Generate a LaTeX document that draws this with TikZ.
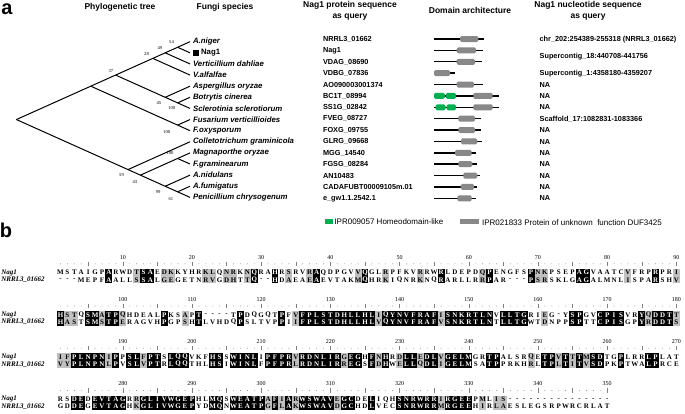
\documentclass[tikz,border=0pt]{standalone}
\usepackage{fontspec}
\setmainfont{Liberation Serif}
\setsansfont{Liberation Sans}
\usepackage{xstring}
\usetikzlibrary{positioning,calc}
\tikzset{every picture/.style={line width=0.75pt}}
\definecolor{domgreen}{RGB}{0,176,80}
\definecolor{domgray}{RGB}{136,136,136}
\definecolor{simgray}{RGB}{192,192,192}

% 比对块: #1 标尺y, #2 起始编号, #3 列数, #4 Nag1, #5 NRRL3, #6 灰色列
\newcommand\alnblock[6]{%
  \pgfmathsetmacro\rowA{#1+15.3}%
  \pgfmathsetmacro\rowB{#1+22.5}%
  \node[seqname] (nag#2) at (1,\rowA) {Nag1};
  \node[seqname] (nrrl#2) at (1,\rowB) {NRRL3\_01662};
  \foreach \g in {#6} {
    \pgfmathsetmacro\gx{60.5+(\g-#2)*6.92}
    \fill[simgray] (\gx-3.46,\rowA-3.6) rectangle (\gx+3.46,\rowB+3.6);
  }
  \foreach \i in {1,...,#3} {
    \pgfmathsetmacro\cx{60.5+(\i-1)*6.92}
    \pgfmathtruncatemacro\num{#2+\i-1}
    \pgfmathtruncatemacro\mf{mod(\num,5)}
    \pgfmathtruncatemacro\mt{mod(\num,10)}
    \ifnum\mf=0
      \draw[black!50, line width=0.5pt] (\cx,#1+4.3) -- (\cx,#1+8.7);
    \else
      \fill[black!50] (\cx,#1+6.5) circle (0.45);
    \fi
    \ifnum\mt=0
      \node[rulernum] (num\num) at (\cx,#1) {\num};
    \fi
    \StrChar{#4}{\i}[\ca]%
    \StrChar{#5}{\i}[\cb]%
    \def\rescol{black}%
    \IfStrEq{\ca}{\cb}{\IfStrEq{\ca}{-}{}{%
      \fill (\cx-3.46,\rowA-3.6) rectangle (\cx+3.46,\rowB+3.6);%
      \def\rescol{white}}}{}%
    \node[res, text=\rescol] (a\num) at (\cx,\rowA) {\ca};
    \node[res, text=\rescol] (b\num) at (\cx,\rowB) {\cb};
  }
}

\begin{document}
\begin{tikzpicture}[x=1pt, y=-1pt,
    hd/.style={font=\sffamily\bfseries\fontsize{8.5}{11}\selectfont, align=center, inner sep=0},
    panel/.style={font=\sffamily\bfseries\fontsize{20}{20}\selectfont, inner sep=0},
    spname/.style={font=\sffamily\bfseries\itshape\fontsize{7.8}{8}\selectfont, anchor=west, inner sep=0},
    idname/.style={font=\sffamily\bfseries\fontsize{7.3}{8}\selectfont, anchor=west, inner sep=0},
    boot/.style={font=\fontsize{4.6}{5}\selectfont, anchor=east, inner sep=0},
    legtxt/.style={font=\sffamily\fontsize{8}{8}\selectfont, anchor=west, inner sep=0},
    seqname/.style={font=\bfseries\itshape\fontsize{7}{7}\selectfont, anchor=west, inner sep=0},
    res/.style={font=\bfseries\fontsize{7}{7}\selectfont, inner sep=0},
    rulernum/.style={font=\fontsize{6}{6}\selectfont, inner sep=0},
    dombox/.style={fill=domgray, rounded corners=1.5pt},
    domline/.style={line width=1.4pt}]
    \fill[white] (0,0) rectangle (685,413);
    \useasboundingbox (0,0) rectangle (685,413);

    % 标题
    \node[panel] (pa) at (7,9) {a};
    \node[panel] (pb) at (6,230) {b};
    \node[hd] (hTree) at (120,7.5) {Phylogenetic tree};
    \node[hd] (hSpec) at (225,7.5) {Fungi species};
    \node[hd] (hProt) at (350,10.5) {Nag1 protein sequence\\as query};
    \node[hd] (hDom) at (470,10) {Domain architecture};
    \node[hd] (hNuc) at (588,10.5) {Nag1 nucleotide sequence\\as query};

    % 系统发育树
    \foreach \i/\j in {0/14,0/8,0/6,0/3,0/2,0/1,4/6,5/6,7/8,9/14,10/14,10/11,12/14,13/14}
        \coordinate (n\i-\j) at ({190-12.4*(\j-\i)},{41.7+5.56*(\i+\j)});
    \foreach \k in {0,...,14}
        \coordinate (n\k-\k) at (190,{41.7+11.12*\k});
    \foreach \p/\c in {0-14/0-8, 0-14/9-14, 0-8/0-6, 0-8/7-8, 0-6/0-3, 0-6/4-6,
        0-3/0-2, 0-3/3-3, 0-2/0-1, 0-2/2-2, 0-1/0-0, 0-1/1-1, 4-6/4-4, 4-6/5-6,
        5-6/5-5, 5-6/6-6, 7-8/7-7, 7-8/8-8, 9-14/9-9, 9-14/10-14, 10-14/10-11,
        10-14/12-14, 10-11/10-10, 10-11/11-11, 12-14/12-12, 12-14/13-14,
        13-14/13-13, 13-14/14-14}
        \draw[line width=1pt] (n\p) -- (n\c);

    % 自展值
    \foreach \nd/\v/\dx/\dy in {0-1/54/-3.4/-5, 0-2/49/-2.7/-4.5, 0-3/28/-3.6/-4.4,
        0-6/37/-2.1/-4.4, 4-6/45/-3.7/5.7, 5-6/100/-2.1/5.1, 7-8/100/-7.1/6.6,
        9-14/59/-3.8/5.4, 10-14/43/-2.9/6.6, 10-11/100/-3.8/-5.2,
        12-14/99/-4.4/5.4, 13-14/61/-4.1/7.2}
        \node[boot] (bt\nd) at ($(n\nd)+(\dx,\dy)$) {\v};

    % 物种名
    \foreach \k/\sp in {0/A.niger, 2/Verticillium dahliae, 3/V.alfalfae,
        4/Aspergillus oryzae, 5/Botrytis cinerea, 6/Sclerotinia sclerotiorum,
        7/Fusarium verticillioides, 8/F.oxysporum, 9/Colletotrichum graminicola,
        10/Magnaporthe oryzae, 11/F.graminearum, 12/A.nidulans, 13/A.fumigatus,
        14/Penicillium chrysogenum}
        \node[spname] (sp\k) at ($(n\k-\k)+(2.7,0)$) {\sp};
    \node[fill=black, minimum size=6.2pt, inner sep=0] (sq1) at ($(n1-1)+(6.2,0)$) {};
    \node[spname, font=\sffamily\bfseries\fontsize{7.8}{8}\selectfont, right=1pt of sq1] (sp1) {Nag1};

    % 蛋白序列编号
    \foreach \k/\pid in {0/NRRL3\_01662, 1/Nag1, 2/VDAG\_08690, 3/VDBG\_07836,
        4/AO090003001374, 5/BC1T\_08994, 6/SS1G\_02842, 7/FVEG\_08727,
        8/FOXG\_09755, 9/GLRG\_09668, 10/MGG\_14540, 11/FGSG\_08284,
        12/AN10483, 13/CADAFUBT00009105m.01, 14/e\_gw1.1.2542.1}
        \node[idname] (id\k) at (322.7,{39.3+11.36*\k}) {\pid};

    % 结构域
    \foreach \k/\le/\bs/\be in {0/484/460/478.3, 1/482.7/456.7/476, 2/481.7/456.7/475,
        3/455/434/450, 4/482.7/456.7/474, 5/499.3/473.3/492.7, 6/499.3/473.3/492.7,
        7/480.7/458.3/475, 8/480.7/458.3/475, 9/481.7/461/477.3, 10/476/455/471.7,
        11/476.7/458.3/472.3, 12/480/463.3/477.3, 13/477.3/460.7/474, 14/475.7/457.3/471.7}
    {
        \draw[domline] (434,{39+11.38*\k}) -- (\le,{39+11.38*\k});
        \fill[dombox] (\bs,{36+11.38*\k}) rectangle (\be,{42+11.38*\k});
    }
    \foreach \k/\ga/\gb/\gc in {5/434/445.3/456, 6/435.5/446/456}
    {
        \fill[domgreen, rounded corners=1.5pt] (\ga,{36+11.38*\k}) rectangle (\gb-0.5,{42+11.38*\k});
        \fill[domgreen, rounded corners=1.5pt] (\gb+0.5,{36+11.38*\k}) rectangle (\gc,{42+11.38*\k});
    }

    % 核苷酸序列
    \node[idname] (nt0) at (539.3,39.3) {chr\_202:254389-255318 (NRRL3\_01662)};
    \node[idname] (nt1) at (539.3,56.7) {Supercontig\_18:440708-441756};
    \node[idname] (nt3) at (539.3,73.6) {Supercontig\_1:4358180-4359207};
    \node[idname] (nt7) at (539.3,118.8) {Scaffold\_17:1082831-1083366};
    \foreach \k in {4,5,6,8,9,10,11,12,13,14}
        \node[idname] (nt\k) at (539.3,{39.3+11.36*\k}) {NA};

    % 图例
    \node[fill=domgreen, minimum width=8.3pt, minimum height=5pt, inner sep=0] (legG) at (329.2,221.5) {};
    \node[legtxt, right=0.4pt of legG] (legGt) {IPR009057 Homeodomain-like};
    \node[fill=domgray, minimum width=19.3pt, minimum height=5pt, inner sep=0] (legU) at (469.7,221.5) {};
    \node[legtxt, right=2pt of legU, yshift=-1pt] (legUt) {IPR021833 Protein of unknown\ \ function DUF3425};

    % 序列比对
    \alnblock{257.3}{1}{90}{MSTAIGPARWDTSAEDKKYHRKLQNRKNQRAHRSRVRAQDPGVVQGLRPFKVRRWRLDEPDQPENGFSPNKPSEPAGVAATCVFRPRPRI}{---MEPFAALLSSALGEGETNRVGDHTTQ--HDAEAEAEVTAKMQHRKIQNRKNQRARLLRRPAR---PSRSKLGAGALMNLISPARSHV}{12,16,17,22,23,25,26,28,34,37,44,48,53,62,70,71,83,90}
    \alnblock{299.5}{91}{90}{HSTQSMATPQHDEALPKSAPT----TPDQGQTPFVFPLSTDHLLHLIQYNVFRAFISNKRTLNVLLTGRIEG-YSPGVCPISVRYQDDTT}{HASTSMSTPERAGVHPGPSHTLVHDQPSLTVPPIIFPLSTDHLLHLVQYNVFRAFVSNKRTLNTLLTGWTDNPPSPTTCPISGPYRDDTS}{92,93,97,100,109,125,137,146,161,176,180}
    \alnblock{341.7}{181}{90}{IFPLNPNIPPSLFPTSLQQVKFHSSWINLIPFPRVRDNLIRGEGHFNHRDLLEDLVGELMGRTPALSRQETPVTTTMSDTGPLRRLPLAT}{VYPLNPNLPVSLVPTRLQQTHLHSIWINLFPFPRLRDNLIRREGSFDHWELLQDLIGELMSATPPRKHRLTPLTITVSDPKPTWALPRCE}{181,182,188,193,215,222,227,230,233,236,249,253,255,257}
    \alnblock{384}{271}{80}{RSDEDEVTAGRRGLIVWGEPHLMQSWEATPAFIARWSWAVEGCDELIQHSNRWRRIRGEEPMLIS---------------}{GDDEGEVTAGHKGLIVWGEPYDMQNWEATPGFLAKWSWAVDGCHDLVECSNRWRRMRGEEHIRLAESLEGSRPWRCRLAT}{282,301,303,305,311,326,332,334,335}
\end{tikzpicture}
\end{document}
